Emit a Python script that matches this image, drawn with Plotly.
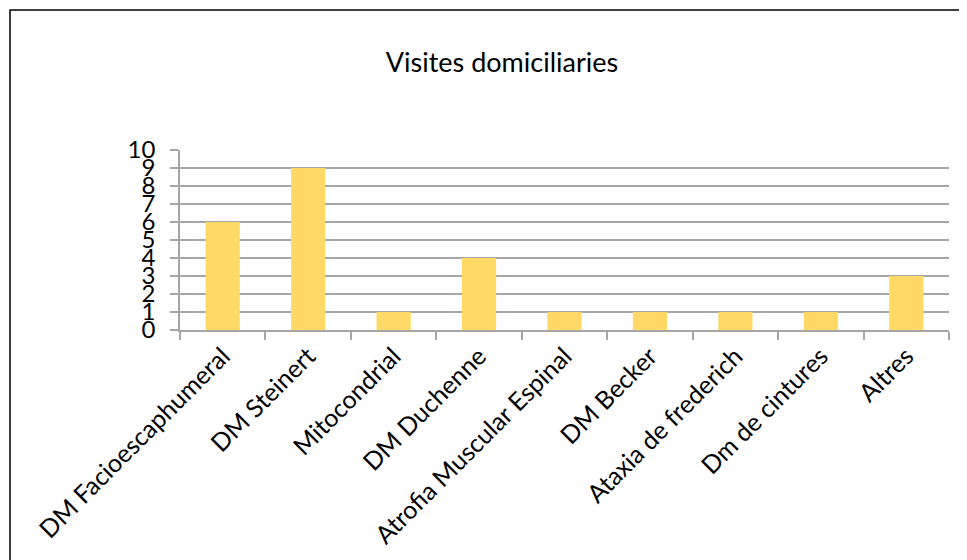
import plotly.graph_objects as go

categories = ["DM Facioescaphumeral", "DM Steinert", "Mitocondrial", "DM Duchenne",
              "Atrofia Muscular Espinal", "DM Becker", "Ataxia de frederich",
              "Dm de cintures", "Altres"]
values = [6, 9, 1, 4, 1, 1, 1, 1, 3]
y_ticks = list(range(0, 11))

FONT = "Lato"
GRID = "#A6A6A6"

fig = go.Figure(go.Bar(x=categories, y=values, marker=dict(color="#FFD966", line=dict(width=0))))

OFF = 8  # page body margin
W, H = 967 - OFF, 560 - OFF
L, T = 180 - OFF, 150 - OFF
R = W - (949 - OFF)
B = H - (330 - OFF)
pw, ph = W - L - R, H - T - B

def px_x(x):
    return (x - OFF - L) / pw

def px_y(y):
    return (H - B - (y - OFF)) / ph

fig.update_layout(
    width=W, height=H,
    margin=dict(l=L, r=R, t=T, b=B, autoexpand=False),
    paper_bgcolor="white", plot_bgcolor="white",
    showlegend=False,
    bargap=0.6,
    title=dict(text="Visites domiciliaries", font=dict(family=FONT, size=27, color="black"),
               x=px_x(502), xref="paper", xanchor="center",
               y=1 - (63 - OFF) / H, yref="container", yanchor="middle"),
    font=dict(family=FONT, color="black"),
    xaxis=dict(
        type="category", tickangle=-45, tickfont=dict(family=FONT, size=25, color="black"),
        showline=True, linecolor=GRID, linewidth=1.5,
        ticks="outside", tickson="boundaries", ticklen=8, tickcolor=GRID, tickwidth=1.5,
        showgrid=False,
    ),
    yaxis=dict(
        range=[0, 10], tickmode="array", tickvals=y_ticks, ticktext=[str(v) for v in y_ticks],
        tickfont=dict(family=FONT, size=24, color="black"),
        showgrid=True, gridcolor=GRID, gridwidth=1.5,
        showline=True, linecolor=GRID, linewidth=1.5,
        ticks="outside", ticklen=8, tickcolor=GRID, tickwidth=1.5,
        ticklabelstandoff=10, zeroline=False,
    ),
    shapes=[dict(type="rect", xref="paper", yref="paper",
                 x0=px_x(10), x1=px_x(985), y0=px_y(580), y1=px_y(10),
                 line=dict(color="black", width=1.5), fillcolor="rgba(0,0,0,0)", layer="below")],
)

fig.write_html("out.html")
